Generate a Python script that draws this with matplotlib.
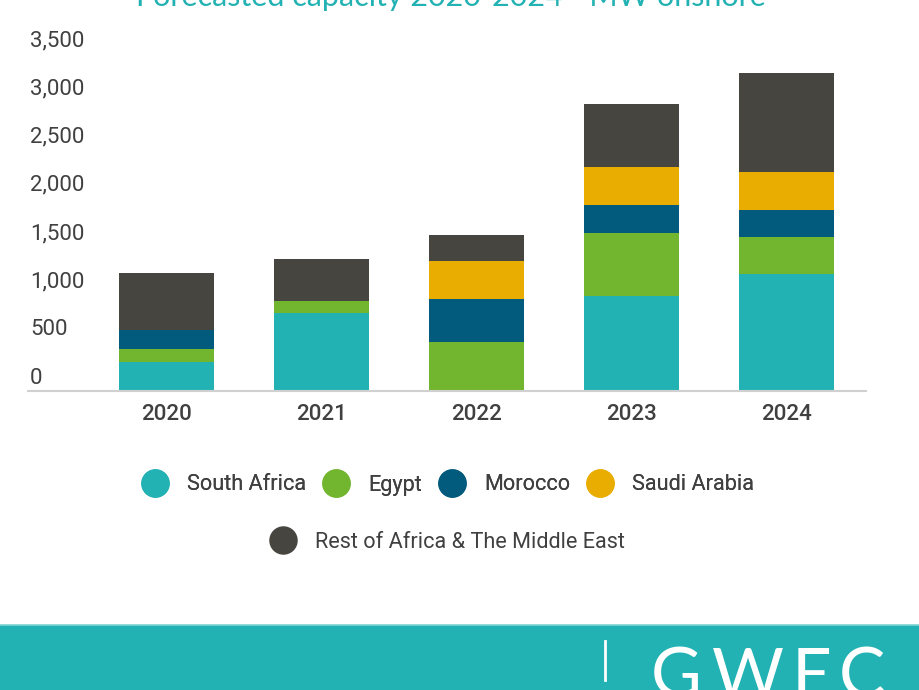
import numpy as np
import matplotlib.pyplot as plt
from matplotlib.transforms import ScaledTranslation
from matplotlib.lines import Line2D
from matplotlib.patches import Rectangle

#---- data (MW) ----
years        = ["2020", "2021", "2022", "2023", "2024"]
south_africa = [305, 813, 0, 990, 1212]
egypt        = [129, 125, 506, 654, 391]
morocco      = [200, 0, 449, 288, 277]
saudi_arabia = [0, 0, 398, 398, 398]
rest         = [595, 430, 270, 648, 1022]

series_names  = ["South Africa", "Egypt", "Morocco", "Saudi Arabia",
                 "Rest of Africa & The Middle East"]
series_values = [south_africa, egypt, morocco, saudi_arabia, rest]
series_colors = ["#22b2b3", "#72b52f", "#025b7c", "#e8ad00", "#47453f"]

y_ticks  = [0, 500, 1000, 1500, 2000, 2500, 3000, 3500]
teal     = "#22b2b3"
txt_col  = "#404040"

plt.rcParams["font.family"] = ["Roboto", "DejaVu Sans"]

fig = plt.figure(figsize=(9.2, 6.9), dpi=100)
ax = fig.add_axes([28/920, 1-391/690, (866-28)/920, (391-54)/690])

#---- stacked bars ----
x = np.arange(len(years))
bottom = np.zeros(len(years))
for name, vals, col in zip(series_names, series_values, series_colors):
    vals = np.array(vals, dtype=float)
    ax.bar(x, vals, width=0.613, bottom=bottom, color=col, label=name, zorder=2)
    bottom = bottom + vals

ax.set_xlim(-0.897, 4.516)
ax.set_ylim(0, 3500)

for s in ["top", "right", "left"]:
    ax.spines[s].set_visible(False)
ax.spines["bottom"].set_color("#d0d0d0")
ax.spines["bottom"].set_linewidth(1.5)

ax.set_xticks(x)
ax.set_xticklabels(years, fontsize=16, color=txt_col, fontweight="medium")
ax.tick_params(axis="x", length=0, pad=9)

#y labels sit just above their (invisible) gridlines
ax.set_yticks([])
offset = ScaledTranslation(0.02, 0.13, fig.dpi_scale_trans)
for v in y_ticks:
    ax.text(0, v, "{:,}".format(v), transform=ax.get_yaxis_transform() + offset,
            ha="left", va="center", fontsize=16, color=txt_col)

#---- legend: two centred rows ----
handles = [Line2D([], [], linestyle="none", marker="o", markersize=19.5,
                  markerfacecolor=c, markeredgecolor=c) for c in series_colors]
leg1 = fig.legend(handles[:4], series_names[:4], loc="center",
                  bbox_to_anchor=(447/920, 1-485/690), ncol=4, frameon=False,
                  fontsize=15.6, handlelength=1.35, handletextpad=0.8,
                  columnspacing=0.72, labelcolor=txt_col)
fig.legend(handles[4:], series_names[4:], loc="center",
           bbox_to_anchor=(447/920, 1-542/690), frameon=False,
           fontsize=15.6, handlelength=1.35, handletextpad=0.8, labelcolor=txt_col)
fig.add_artist(leg1)

#---- title (cut off at the top) ----
fig.text(451/920, 1-6/690, "Forecasted capacity 2020-2024 - MW onshore",
         ha="center", va="baseline", fontsize=22, color=teal,
         family=["Lato", "DejaVu Sans"])

#---- footer band with logo ----
fig.add_artist(Rectangle((0, 0), 1, 1-625/690, transform=fig.transFigure,
                         facecolor=teal, edgecolor="none"))
fig.add_artist(Line2D([0, 1], [1-625/690, 1-625/690], transform=fig.transFigure,
                      color="#7fd3d3", linewidth=1.2))
fig.add_artist(Line2D([605/920, 605/920], [1-641/690, 1-680/690],
                      transform=fig.transFigure, color="white", linewidth=2))
for letter, lx in zip("GWEC", [676, 748, 812, 862]):
    fig.text(lx/920, 1-698/690, letter, ha="center", va="baseline",
             fontsize=50, color="white", family=["Lato", "DejaVu Sans"])

fig.savefig("out.png", dpi=100)
